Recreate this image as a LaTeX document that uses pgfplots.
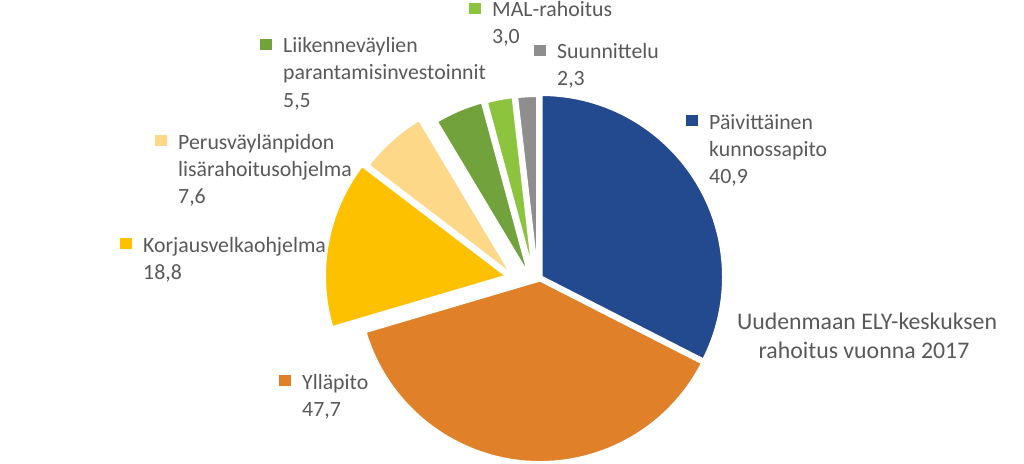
\documentclass[border=0pt]{standalone}
\usepackage{pgfplots}
\pgfplotsset{compat=1.18}
\usepackage{pgfplotstable}
\usepackage{fontspec}
\setmainfont{Carlito}

\definecolor{cPaiv}{HTML}{234A8E}
\definecolor{cYlla}{HTML}{E0812A}
\definecolor{cKorj}{HTML}{FDC100}
\definecolor{cPerus}{HTML}{FDD888}
\definecolor{cLiik}{HTML}{72A23C}
\definecolor{cMAL}{HTML}{8CC43E}
\definecolor{cSuun}{HTML}{8E8E8E}
\definecolor{txt}{HTML}{595959}

% value = share, dx/dy = slice offset in px, clockwise from 12 o'clock
\pgfplotstableread{
label value dx dy color
Paivittainen 40.9 1 -1 cPaiv
Yllapito 47.7 0 2 cYlla
Korjausvelka 18.8 -33 -2 cKorj
Perusvaylanpito 7.6 -27 -2 cPerus
Liikennevaylat 5.5 -10 0 cLiik
MAL 3.0 -6 0 cMAL
Suunnittelu 2.3 -2.5 0 cSuun
}\piedata

% x, y (baseline of first line), color, {{line},{line},...}
\newcommand\lbl[4]{%
  \fill[#3] (axis cs:#1-23,#2-14) rectangle (axis cs:#1-11,#2-3);
  \foreach \t [count=\k from 0] in {#4}{%
    \pgfmathsetmacro\yy{#2+27*\k}%
    \node[anchor=base west, inner sep=0pt, text=txt] at (axis cs:#1,\yy) {\t};}%
}

\begin{document}
\fontsize{21.8bp}{27bp}\selectfont
\begin{tikzpicture}
\begin{axis}[
  width=1024bp, height=463bp, scale only axis,
  xmin=0, xmax=1024, ymin=0, ymax=463, y dir=reverse,
  hide axis,
]
\pgfplotsextra{%
  \pgfplotstablegetrowsof{\piedata}%
  \pgfmathtruncatemacro\last{\pgfplotsretval-1}%
  \gdef\piesum{0}%
  \foreach \i in {0,...,\last}{%
    \pgfplotstablegetelem{\i}{value}\of\piedata
    \pgfmathsetmacro\s{\piesum+\pgfplotsretval}\xdef\piesum{\s}}%
  \gdef\angA{90}%
  \foreach \i in {0,...,\last}{%
    \pgfplotstablegetelem{\i}{value}\of\piedata \let\val\pgfplotsretval
    \pgfplotstablegetelem{\i}{dx}\of\piedata \let\offx\pgfplotsretval
    \pgfplotstablegetelem{\i}{dy}\of\piedata \let\offy\pgfplotsretval
    \pgfplotstablegetelem{\i}{color}\of\piedata \let\col\pgfplotsretval
    \pgfmathsetmacro\angB{\angA-\val/\piesum*360}%
    \pgfmathsetmacro\cx{540+\offx}%
    \pgfmathsetmacro\cy{278+\offy}%
    \fill[fill=\col, draw=white, line width=3bp, line join=round]
      (axis cs:\cx,\cy) -- ++(\angA:182.5bp)
      arc[start angle=\angA, end angle=\angB, radius=182.5bp] -- cycle;
    \xdef\angA{\angB}}%
  \lbl{709}{129}{cPaiv}{{Päivittäinen},{kunnossapito},{40,9}}
  \lbl{302}{389}{cYlla}{{Ylläpito},{47,7}}
  \lbl{143}{252}{cKorj}{{Korjausvelkaohjelma},{18,8}}
  \lbl{178}{149}{cPerus}{{Perusväylänpidon},{lisärahoitusohjelma},{7,6}}
  \lbl{283}{53}{cLiik}{{Liikenneväylien},{parantamisinvestoinnit},{5,5}}
  \lbl{492}{17}{cMAL}{{MAL-rahoitus},{3,0}}
  \lbl{557}{59}{cSuun}{{Suunnittelu},{2,3}}
}
\node[anchor=base, inner sep=0pt, text=txt, font=\fontsize{23.8bp}{29bp}\selectfont] at (axis cs:867,329) {Uudenmaan ELY-keskuksen};
\node[anchor=base, inner sep=0pt, text=txt, font=\fontsize{23.8bp}{29bp}\selectfont] at (axis cs:864,358) {rahoitus vuonna 2017};
\end{axis}
\pgfresetboundingbox
\path (current axis.south west) rectangle (current axis.north east);
\end{tikzpicture}
\end{document}
